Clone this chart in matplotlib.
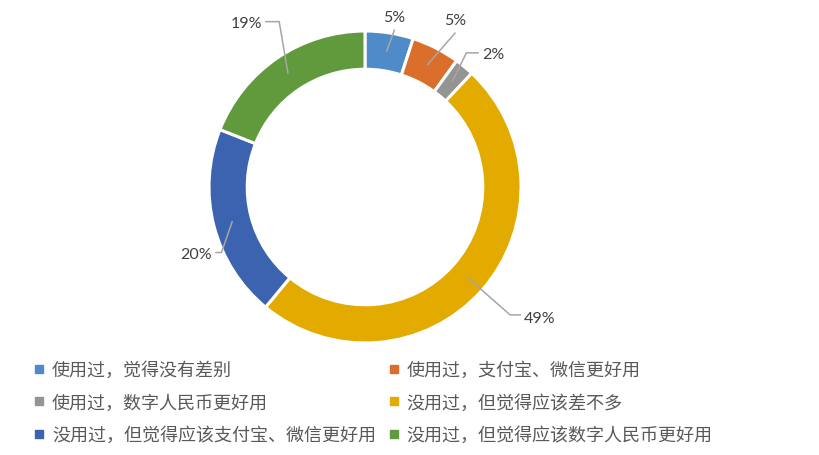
import matplotlib
matplotlib.use('Agg')
import numpy as np
import matplotlib.pyplot as plt
from matplotlib.lines import Line2D

plt.rcParams['font.family'] = ['Noto Sans CJK SC', 'DejaVu Sans']

# Data
categories = [
    '使用过，觉得没有差别',
    '使用过，支付宝、微信更好用',
    '使用过，数字人民币更好用',
    '没用过，但觉得应该差不多',
    '没用过，但觉得应该支付宝、微信更好用',
    '没用过，但觉得应该数字人民币更好用',
]
values = [5, 5, 2, 49, 20, 19]
colors = ['#4E8BC8', '#D96F2A', '#949494', '#E3AA00', '#3B63B0', '#619A3D']

# label layout (data units, outer radius = 1): text pos, ha, elbow point or None
label_layout = [
    ((0.19, 1.09), 'center', None),
    ((0.58, 1.07), 'center', None),
    ((0.75, 0.85), 'left', (0.65, 0.86)),
    ((1.02, -0.84), 'left', (0.93, -0.82)),
    ((-0.98, -0.43), 'right', (-0.92, -0.42)),
    ((-0.66, 1.05), 'right', (-0.55, 1.06)),
]

W, H = 819, 456
R_PX = 156.0
CX, CY = 365, 188

fig = plt.figure(figsize=(W / 100, H / 100), dpi=100)
ax = fig.add_axes([0, 0, 1, 1])

width = 0.245
wedges, _ = ax.pie(values, colors=colors, startangle=90, counterclock=False,
                   radius=1.0,
                   wedgeprops=dict(width=width, edgecolor='white', linewidth=2.2))
ax.set_aspect('auto')
ax.set_xlim(-CX / R_PX, (W - CX) / R_PX)
ax.set_ylim(-(H - CY) / R_PX, CY / R_PX)
ax.axis('off')

lead_color = '#A6A6A6'
for w, v, (tpos, ha, elbow) in zip(wedges, values, label_layout):
    ang = np.deg2rad((w.theta1 + w.theta2) / 2)
    r = 1 - width / 2
    px, py = r * np.cos(ang), r * np.sin(ang)
    tx, ty = tpos
    if elbow is None:
        xs = [px, tx]
        ys = [py, ty - 0.08]
    else:
        ex, ey = elbow
        end_x = tx - 0.02 if ha == 'left' else tx + 0.02
        xs = [px, ex, end_x]
        ys = [py, ey, ey]
    ax.plot(xs, ys, color=lead_color, lw=1.1, solid_capstyle='butt', zorder=3)
    ax.text(tx, ty, '%d%%' % v, ha=ha, va='center', fontsize=11.5,
            color='#404040', family=['Lato', 'DejaVu Sans'])

# legend fills column-wise; reorder so entries run row by row
order = [0, 2, 4, 1, 3, 5]
handles = [Line2D([], [], marker='s', linestyle='none', markersize=5.5,
                  markerfacecolor=colors[i], markeredgecolor=colors[i]) for i in order]
leg = fig.legend(handles, [categories[i] for i in order], ncol=2, loc='upper left',
                 bbox_to_anchor=(34 / W, 1 - 362 / H), frameon=False,
                 fontsize=13, labelcolor='#595959', handlelength=0.6,
                 handletextpad=0.4, columnspacing=0.7, labelspacing=0.8,
                 borderpad=0, borderaxespad=0)

fig.savefig('out.png', dpi=100)
